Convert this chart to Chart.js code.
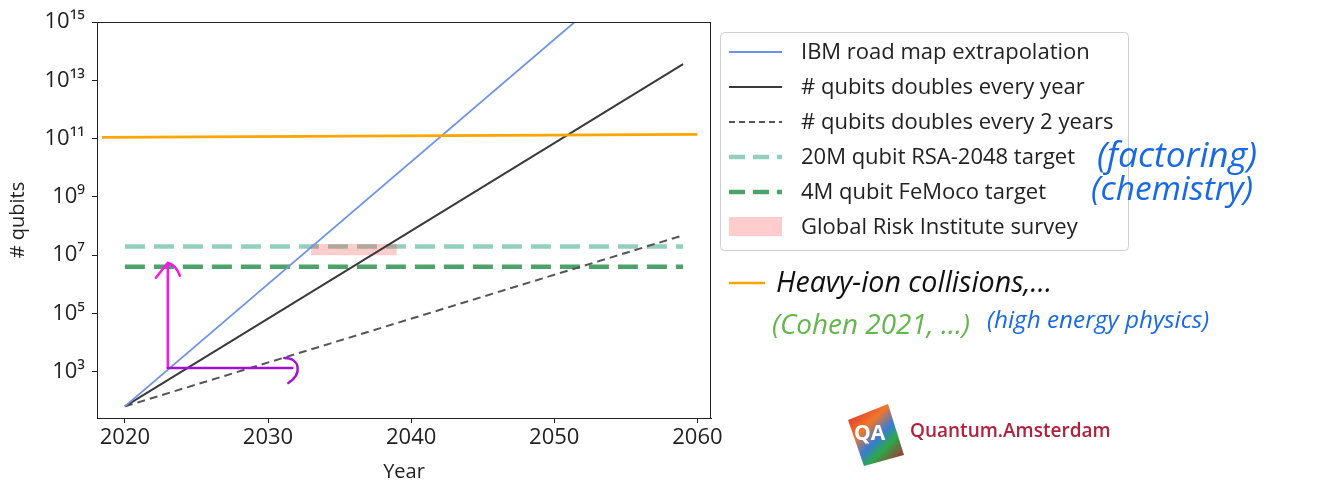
<!DOCTYPE html>
<html>
<head>
<meta charset="utf-8">
<script src="https://cdn.jsdelivr.net/npm/chart.js@4/dist/chart.umd.min.js"></script>
<style>
  html, body { margin: 0; padding: 0; background: #fff; }
</style>
</head>
<body>
<canvas id="qubits-chart" width="1330" height="480"></canvas>
<script>
// values
const years = [2020, 2059];
const ibmQubits = [65, 1.5e18];          // leaves the plot through the top
const doublingYearly = [65, 3.6e13];
const doublingEvery2 = [65, 4.8e7];
const rsaTarget = [2e7, 2e7];
const femocoTarget = [4e6, 4e6];
const heavyIonYears = [2018.4, 2060];
const heavyIonQubits = [1.1e11, 1.4e11];
const surveyYears = [2033, 2039];
const surveyLow = [1e7, 1e7];
const surveyHigh = [2.4e7, 2.4e7];

const xTicks = [2020, 2030, 2040, 2050, 2060];
const yTicks = [1e3, 1e5, 1e7, 1e9, 1e11, 1e13, 1e15];
const yTickLabels = ['10³', '10⁵', '10⁷', '10⁹', '10¹¹', '10¹³', '10¹⁵'];

const legendLabels = [
    'IBM road map extrapolation',
    '# qubits doubles every year',
    '# qubits doubles every 2 years',
    '20M qubit RSA-2048 target',
    '4M qubit FeMoco target',
    'Global Risk Institute survey'
];

const FONT = '"Open Sans", "DejaVu Sans", sans-serif';

function pts(xs, ys) {
    return xs.map((x, i) => ({ x: x, y: ys[i] }));
}

function line(label, data, color, width, dash, order) {
    return {
        label: label,
        data: data,
        borderColor: color,
        backgroundColor: color,
        borderWidth: width,
        borderDash: dash,
        pointRadius: 0,
        fill: false,
        tension: 0,
        order: order
    };
}

const datasets = [
    line(legendLabels[0], pts(years, ibmQubits), '#6d93e8', 1.8, [], 1),
    line(legendLabels[1], pts(years, doublingYearly), '#3a3a3a', 2, [], 2),
    line(legendLabels[2], pts(years, doublingEvery2), '#555555', 2, [8, 5], 3),
    line(legendLabels[3], pts(years, rsaTarget), '#92cfbc', 4.5, [20, 9], 5),
    line(legendLabels[4], pts(years, femocoTarget), '#4ba36a', 4.5, [20, 9], 5),
    {
        label: legendLabels[5],
        data: pts(surveyYears, surveyHigh),
        borderWidth: 0,
        pointRadius: 0,
        backgroundColor: 'rgba(255, 60, 60, 0.26)',
        fill: '+1',
        order: 4
    },
    {
        label: 'survey low',
        data: pts(surveyYears, surveyLow),
        borderWidth: 0,
        pointRadius: 0,
        fill: false,
        order: 4
    },
    line('heavy-ion', pts(heavyIonYears, heavyIonQubits), '#ffa500', 2.6, [], 0)
];

// text fitted to a width, used for the handwritten notes
function fitText(ctx, text, x, y, width, color, style) {
    ctx.save();
    ctx.font = style + ' 24px ' + FONT;
    const w = ctx.measureText(text).width;
    const size = 24 * width / w;
    ctx.font = style + ' ' + size.toFixed(1) + 'px ' + FONT;
    ctx.fillStyle = color;
    ctx.textBaseline = 'middle';
    ctx.textAlign = 'left';
    ctx.fillText(text, x, y);
    ctx.restore();
}

const extras = {
    id: 'extras',
    afterDraw(chart) {
        const ctx = chart.ctx;
        const a = chart.chartArea;
        const xs = chart.scales.x, ys = chart.scales.y;

        // full box around the axes
        ctx.save();
        ctx.strokeStyle = '#222';
        ctx.lineWidth = 1;
        ctx.strokeRect(a.left + 0.5, a.top + 0.5, a.right - a.left - 1, a.bottom - a.top);
        ctx.restore();

        // legend
        ctx.save();
        const lx = 720, ly = 32, lw = 408, lh = 218;
        ctx.strokeStyle = '#d0d0d0';
        ctx.lineWidth = 1;
        ctx.fillStyle = 'rgba(255,255,255,0.9)';
        ctx.beginPath();
        ctx.roundRect(lx + 0.5, ly + 0.5, lw, lh, 4);
        ctx.fill();
        ctx.stroke();
        ctx.font = '22px ' + FONT;
        ctx.textBaseline = 'middle';
        for (let i = 0; i < 6; i++) {
            const ds = datasets[i];
            const y = 52 + i * 35;
            if (i === 5) {
                ctx.fillStyle = ds.backgroundColor;
                ctx.fillRect(729, y - 10, 53, 19);
            } else {
                ctx.strokeStyle = ds.borderColor;
                ctx.lineWidth = ds.borderWidth;
                const d = ds.borderDash.length ? (i === 2 ? [6, 4] : [16, 8]) : [];
                ctx.setLineDash(d);
                ctx.beginPath();
                ctx.moveTo(729, y);
                ctx.lineTo(782, y);
                ctx.stroke();
                ctx.setLineDash([]);
            }
            ctx.fillStyle = '#222';
            ctx.fillText(legendLabels[i], 801, y + 1);
        }
        ctx.restore();

        // magenta arrows, placed through the scales
        const cx = xs.getPixelForValue(2023);
        const cy = ys.getPixelForValue(1.35e3);
        const topY = ys.getPixelForValue(5.5e6);
        const endX = xs.getPixelForValue(2031.7);
        ctx.save();
        ctx.lineCap = 'round';
        ctx.lineJoin = 'round';
        ctx.lineWidth = 2.5;
        ctx.strokeStyle = '#ff14e6';
        ctx.beginPath();
        ctx.moveTo(cx, cy);
        ctx.lineTo(cx, topY);
        ctx.moveTo(cx - 12, topY + 15);
        ctx.lineTo(cx, topY);
        ctx.quadraticCurveTo(cx + 8, topY + 2, cx + 12, topY + 13);
        ctx.stroke();
        ctx.strokeStyle = '#a50fd8';
        ctx.beginPath();
        ctx.moveTo(cx, cy);
        ctx.lineTo(endX, cy);
        ctx.moveTo(endX - 8, cy - 10);
        ctx.bezierCurveTo(endX + 8, cy - 10, endX + 10, cy + 6, endX - 4, cy + 15);
        ctx.stroke();
        ctx.restore();

        // handwritten notes
        ctx.save();
        ctx.strokeStyle = '#ffa500';
        ctx.lineWidth = 2.5;
        ctx.beginPath();
        ctx.moveTo(729, 283);
        ctx.lineTo(765, 283);
        ctx.stroke();
        ctx.restore();
        fitText(ctx, 'Heavy-ion collisions,...', 776, 284, 276, '#111', 'italic');
        fitText(ctx, '(Cohen 2021, ...)', 772, 326, 198, '#63b64c', 'italic');
        fitText(ctx, '(high energy physics)', 987, 321, 222, '#1769e6', 'italic');
        fitText(ctx, '(factoring)', 1097, 157, 160, '#1769e6', 'italic');
        fitText(ctx, '(chemistry)', 1091, 190, 162, '#1769e6', 'italic');

        // Quantum.Amsterdam logo
        ctx.save();
        const g = ctx.createLinearGradient(848, 405, 905, 462);
        g.addColorStop(0, '#d8232a');
        g.addColorStop(0.35, '#f0772a');
        g.addColorStop(0.55, '#3a7bd5');
        g.addColorStop(0.7, '#2aa84a');
        g.addColorStop(1, '#c4162e');
        ctx.fillStyle = g;
        ctx.beginPath();
        ctx.moveTo(848, 420);
        ctx.lineTo(888, 404);
        ctx.lineTo(904, 455);
        ctx.lineTo(864, 466);
        ctx.closePath();
        ctx.fill();
        ctx.fillStyle = '#fff';
        ctx.font = 'bold 21px ' + FONT;
        ctx.textBaseline = 'middle';
        ctx.fillText('QA', 854, 434);
        ctx.fillStyle = '#b3203b';
        ctx.font = '600 19px ' + FONT;
        ctx.fillText('Quantum.Amsterdam', 910, 432);
        ctx.restore();
    }
};

new Chart(document.getElementById('qubits-chart'), {
    type: 'line',
    data: { datasets: datasets },
    options: {
        responsive: false,
        animation: false,
        layout: { padding: { top: 22, right: 619, left: 0, bottom: 0 } },
        plugins: {
            legend: { display: false },
            tooltip: { enabled: false },
            filler: { propagate: false }
        },
        scales: {
            x: {
                type: 'linear',
                min: 2018.05,
                max: 2060.95,
                afterBuildTicks: s => { s.ticks = xTicks.map(v => ({ value: v })); },
                afterFit: s => { s.height = 62; },
                ticks: {
                    callback: v => String(v),
                    color: '#222',
                    font: { size: 22, family: FONT },
                    padding: 2,
                    maxRotation: 0
                },
                grid: { drawOnChartArea: false, tickLength: 5, color: '#222' },
                border: { color: '#222' },
                title: {
                    display: true,
                    text: 'Year',
                    color: '#222',
                    font: { size: 20, family: FONT },
                    padding: { top: 0, bottom: -4 }
                }
            },
            y: {
                type: 'logarithmic',
                min: 26,
                max: 1e15,
                afterBuildTicks: s => { s.ticks = yTicks.map(v => ({ value: v })); },
                afterFit: s => { s.width = 97; },
                ticks: {
                    callback: v => yTickLabels[yTicks.indexOf(v)],
                    color: '#222',
                    font: { size: 22, family: FONT },
                    padding: 7
                },
                grid: { drawOnChartArea: false, tickLength: 5, color: '#222' },
                border: { color: '#222' },
                title: {
                    display: true,
                    text: '# qubits',
                    color: '#222',
                    font: { size: 20, family: FONT },
                    padding: { top: 6, bottom: 0 }
                }
            }
        }
    },
    plugins: [extras]
});
</script>
</body>
</html>
